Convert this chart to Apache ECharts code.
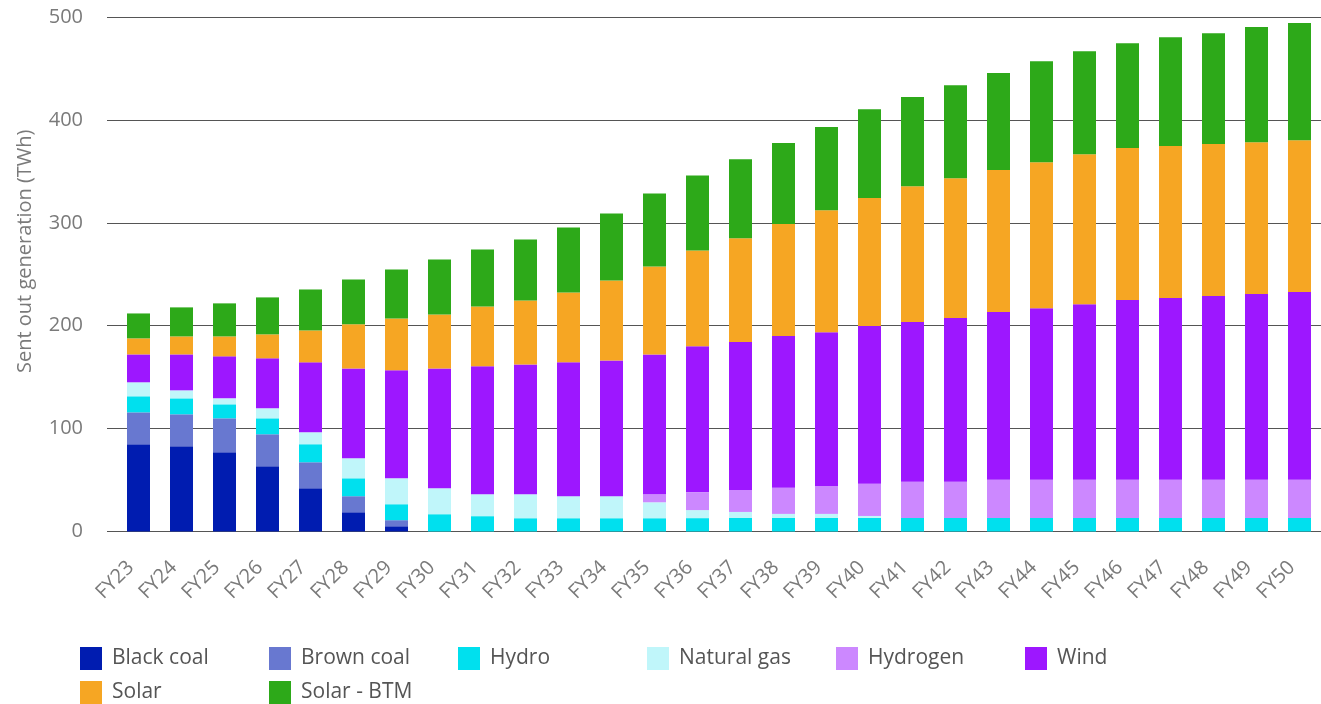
<!DOCTYPE html>
<html>
<head>
<meta charset="utf-8">
<title>Sent out generation</title>
<script src="https://cdn.jsdelivr.net/npm/echarts@6.0.0/dist/echarts.min.js"></script>
<style>
    html, body { margin: 0; padding: 0; background: #fff; }
    #chart { width: 1321px; height: 704px; }
</style>
</head>
<body>
<div id="chart"></div>
<script>
'use strict';

var years = ['FY23', 'FY24', 'FY25', 'FY26', 'FY27', 'FY28', 'FY29', 'FY30', 'FY31', 'FY32',
    'FY33', 'FY34', 'FY35', 'FY36', 'FY37', 'FY38', 'FY39', 'FY40', 'FY41', 'FY42',
    'FY43', 'FY44', 'FY45', 'FY46', 'FY47', 'FY48', 'FY49', 'FY50'];

var yTicks = [0, 100, 200, 300, 400, 500];

// TWh
var blackCoal = [84.7, 82.8, 77.0, 63.4, 42.0, 18.7, 5.1, 0, 0, 0,
    0, 0, 0, 0, 0, 0, 0, 0, 0, 0,
    0, 0, 0, 0, 0, 0, 0, 0];
var brownCoal = [31.1, 31.1, 33.0, 31.1, 25.3, 15.6, 5.9, 0, 0, 0,
    0, 0, 0, 0, 0, 0, 0, 0, 0, 0,
    0, 0, 0, 0, 0, 0, 0, 0];
var hydro = [15.6, 15.5, 13.6, 15.5, 17.5, 17.4, 15.5, 16.8, 14.9, 12.9,
    12.9, 12.9, 12.9, 13.0, 13.1, 13.1, 13.1, 13.1, 13.1, 13.1,
    13.1, 13.1, 13.1, 13.1, 13.1, 13.1, 13.1, 13.1];
var naturalGas = [13.6, 7.8, 5.8, 9.7, 11.6, 19.5, 25.2, 25.2, 21.3, 23.3,
    21.4, 21.4, 15.5, 7.8, 5.9, 4.0, 4.0, 2.0, 0, 0,
    0, 0, 0, 0, 0, 0, 0, 0];
var hydrogen = [0, 0, 0, 0, 0, 0, 0, 0, 0, 0,
    0, 0, 7.8, 17.5, 21.4, 25.3, 27.2, 31.2, 35.2, 35.2,
    37.1, 37.1, 37.1, 37.1, 37.1, 37.1, 37.1, 37.1];
var wind = [27.1, 34.9, 40.8, 48.6, 68.0, 87.3, 104.9, 116.5, 124.3, 126.2,
    130.1, 132.0, 135.9, 141.7, 143.8, 147.7, 149.4, 153.3, 155.2, 159.2,
    163.2, 166.8, 170.7, 174.7, 176.7, 178.6, 180.6, 182.6];
var solar = [15.6, 17.5, 19.4, 23.3, 31.0, 42.8, 50.5, 52.5, 58.2, 62.2,
    67.9, 77.7, 85.5, 93.2, 100.8, 108.7, 118.5, 124.4, 132.0, 135.9,
    137.9, 141.8, 145.8, 147.7, 147.7, 147.8, 147.4, 147.4];
var solarBtm = [24.2, 28.2, 32.1, 35.9, 39.8, 43.6, 47.6, 53.4, 55.4, 59.2,
    63.1, 65.0, 70.8, 72.8, 76.8, 78.7, 80.8, 86.4, 86.7, 90.3,
    94.2, 98.2, 100.1, 101.8, 105.7, 107.6, 112.0, 113.9];

var seriesNames = ['Black coal', 'Brown coal', 'Hydro', 'Natural gas', 'Hydrogen', 'Wind', 'Solar', 'Solar - BTM'];
var seriesData = [blackCoal, brownCoal, hydro, naturalGas, hydrogen, wind, solar, solarBtm];
var seriesColors = ['#001cb0', '#6878d0', '#00e0ee', '#c0f6fa', '#cc88ff', '#9d17ff', '#f6a623', '#2da919'];

var fontFamily = '"Open Sans", "Noto Sans", sans-serif';

function buildSeries() {
    var list = [];
    for (var i = 0; i < seriesNames.length; i++) {
        list.push({
            name: seriesNames[i],
            type: 'bar',
            stack: 'total',
            barWidth: 23,
            itemStyle: { color: seriesColors[i] },
            emphasis: { disabled: true },
            data: seriesData[i]
        });
    }
    return list;
}

var option = {
    animation: false,
    color: seriesColors,
    textStyle: { fontFamily: fontFamily },
    grid: {
        left: 117,
        top: 17,
        width: 1214,
        height: 514.5
    },
    legend: {
        left: 80,
        top: 647,
        padding: 0,
        width: 1130,
        itemWidth: 22,
        itemHeight: 23,
        itemGap: 11,
        icon: 'rect',
        data: seriesNames,
        textStyle: {
            fontFamily: fontFamily,
            fontSize: 21,
            color: '#555',
            width: 146,
            lineHeight: 23,
            padding: [0, 0, 0, 5]
        }
    },
    xAxis: {
        type: 'category',
        data: years,
        axisLine: { show: false },
        axisTick: { show: false },
        axisLabel: {
            rotate: 45,
            margin: 25,
            // right padding slides the rotated text down-left along its slope
            padding: [0, 11, 0, 0],
            fontSize: 20,
            color: '#7a7a7a',
            fontFamily: fontFamily
        }
    },
    yAxis: {
        type: 'value',
        min: yTicks[0],
        max: yTicks[yTicks.length - 1],
        interval: yTicks[1] - yTicks[0],
        name: 'Sent out generation (TWh)',
        nameLocation: 'middle',
        nameGap: 82,
        nameTextStyle: {
            fontSize: 20,
            color: '#7a7a7a',
            fontFamily: fontFamily,
            padding: [0, 0, 0, 46]
        },
        axisLine: { show: false },
        // short ticks carry the grid lines out to the left
        axisTick: { show: true, length: 10, lineStyle: { color: '#555', width: 1 } },
        axisLabel: {
            margin: 34,
            fontSize: 20,
            color: '#7a7a7a',
            fontFamily: fontFamily
        },
        splitLine: { lineStyle: { color: '#555', width: 1 } }
    },
    series: buildSeries()
};

var chart = echarts.init(document.getElementById('chart'));
chart.setOption(option, true);
</script>
</body>
</html>
